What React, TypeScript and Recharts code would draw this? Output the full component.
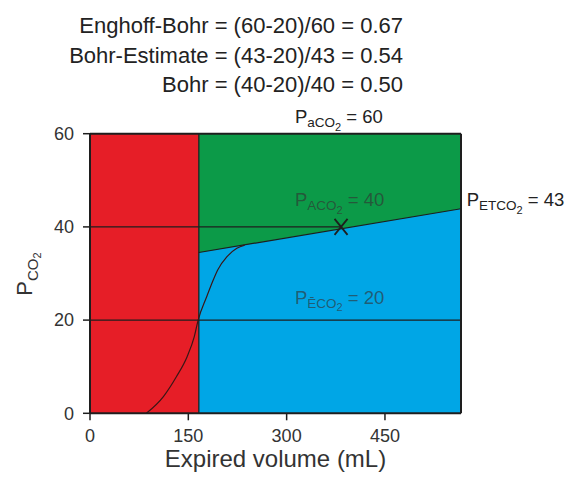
import React from "react";
import {
  ComposedChart,
  Area,
  Line,
  XAxis,
  YAxis,
  ReferenceLine,
  ReferenceDot,
  Scatter,
} from "recharts";

// ---- data ----
const xTicks = [0, 150, 300, 450];
const yTicks = [0, 20, 40, 60];
const volumeMax = 566;
const deadSpaceVolume = 166;
const paCO2 = 60;
const pACO2 = 40;
const pECO2 = 20;
const alveolarPointVolume = 383;

// capnogram S-curve (phase I/II)
const curveVolume = [86, 112, 132, 148, 159, 165, 178, 188, 195, 209, 224, 236];
const curvePco2 = [0, 3.6, 7.9, 12.1, 16.4, 20, 25, 28.6, 30.8, 33.6, 35.4, 36.1];

// phase III line (top of blue area)
const phase3Volume = [166, 566];
const phase3Pco2 = [34.5, 43.9];

const titleLines = [
  "Enghoff-Bohr = (60-20)/60 = 0.67",
  "Bohr-Estimate = (43-20)/43 = 0.54",
  "Bohr = (40-20)/40 = 0.50",
];

const curveData = curveVolume.map((v, i) => ({ v, p: curvePco2[i] }));
const phase3Data = phase3Volume.map((v, i) => ({ v, p: phase3Pco2[i] }));
const redData = [
  { v: 0, p: paCO2 },
  { v: deadSpaceVolume, p: paCO2 },
];
const greenData = [
  { v: deadSpaceVolume, p: paCO2 },
  { v: volumeMax, p: paCO2 },
];
const xMarkData = [{ v: alveolarPointVolume, p: pACO2 }];

const FONT = "'Liberation Sans', Arial, Helvetica, sans-serif";
const RED = "#e61e27";
const GREEN = "#0c9a48";
const BLUE = "#00a6e6";
const DARK = "#1e1e1e";

function subLabel(
  main: string,
  sub: string,
  rest: string,
  fill: string,
  opacity = 1
) {
  return (props: any) => (
    <text
      x={props.cx}
      y={props.cy}
      fontFamily={FONT}
      fill={fill}
      fillOpacity={opacity}
      fontSize={18.5}
    >
      <tspan>{main}</tspan>
      <tspan fontSize={13.5} dy={4}>
        {sub}
      </tspan>
      <tspan fontSize={11} dy={3.5}>
        2
      </tspan>
      <tspan fontSize={18.5} dy={-7.5}>
        {" = " + rest}
      </tspan>
    </text>
  );
}

const XMark = (props: any) => {
  const { cx, cy } = props;
  return (
    <g stroke={DARK} strokeWidth={1.8}>
      <line x1={cx - 6.5} y1={cy - 8} x2={cx + 6.5} y2={cy + 8} />
      <line x1={cx + 6.5} y1={cy - 8} x2={cx - 6.5} y2={cy + 8} />
    </g>
  );
};

export default function App() {
  return (
    <div style={{ position: "absolute", left: 0, top: 0, width: 584, height: 478, background: "#fff" }}>
      <ComposedChart
        width={584}
        height={478}
        margin={{ top: 133.7, right: 123, left: 30, bottom: 34.7 }}
      >
        <XAxis
          type="number"
          dataKey="v"
          domain={[0, volumeMax]}
          ticks={xTicks}
          allowDataOverflow
          height={30}
          tickSize={7}
          tickMargin={9}
          axisLine={{ stroke: DARK, strokeWidth: 2 }}
          tickLine={{ stroke: DARK, strokeWidth: 1.5 }}
          tick={{ fontSize: 18, fill: "#333", fontFamily: FONT }}
        />
        <YAxis
          type="number"
          dataKey="p"
          domain={[0, 60]}
          ticks={yTicks}
          allowDataOverflow
          width={60}
          tickSize={7}
          tickMargin={9}
          axisLine={{ stroke: DARK, strokeWidth: 2 }}
          tickLine={{ stroke: DARK, strokeWidth: 1.5 }}
          tick={{ fontSize: 18, fill: "#333", fontFamily: FONT }}
        />
        <Area
          data={redData}
          dataKey="p"
          type="linear"
          fill={RED}
          fillOpacity={1}
          stroke="none"
          baseValue={0}
          isAnimationActive={false}
        />
        <Area
          data={greenData}
          dataKey="p"
          type="linear"
          fill={GREEN}
          fillOpacity={1}
          stroke="none"
          baseValue={0}
          isAnimationActive={false}
        />
        <Area
          data={phase3Data}
          dataKey="p"
          type="linear"
          fill={BLUE}
          fillOpacity={1}
          stroke={DARK}
          strokeWidth={1.2}
          baseValue={0}
          isAnimationActive={false}
        />
        <ReferenceLine
          segment={[
            { x: 0, y: pACO2 },
            { x: alveolarPointVolume, y: pACO2 },
          ]}
          stroke={DARK}
          strokeWidth={1.2}
        />
        <ReferenceLine y={pECO2} stroke={DARK} strokeWidth={1.2} />
        <ReferenceLine x={deadSpaceVolume} stroke={DARK} strokeWidth={1.3} />
        <ReferenceLine x={volumeMax} stroke={DARK} strokeWidth={2} />
        <ReferenceLine y={paCO2} stroke={DARK} strokeWidth={2} />
        <Line
          data={curveData}
          dataKey="p"
          type="monotone"
          stroke="#3a1616"
          strokeWidth={1.2}
          dot={false}
          isAnimationActive={false}
        />
        <Scatter data={xMarkData} dataKey="p" shape={XMark} isAnimationActive={false} />
        <ReferenceDot
          x={312.7}
          y={62.2}
          r={0}
          ifOverflow="visible"
          shape={subLabel("P", "aCO", "60", "#222")}
        />
        <ReferenceDot
          x={312.7}
          y={44.4}
          r={0}
          ifOverflow="visible"
          shape={subLabel("P", "ACO", "40", "#333", 0.65)}
        />
        <ReferenceDot
          x={312.7}
          y={23.5}
          r={0}
          ifOverflow="visible"
          shape={subLabel("P", "ĒCO", "20", "#333", 0.65)}
        />
        <ReferenceDot
          x={574.6}
          y={44.4}
          r={0}
          ifOverflow="visible"
          shape={subLabel("P", "ETCO", "43", "#222")}
        />
      </ComposedChart>
      <svg
        width={584}
        height={478}
        style={{ position: "absolute", left: 0, top: 0, pointerEvents: "none" }}
      >
        {titleLines.map((t, i) => (
          <text
            key={i}
            x={403}
            y={33 + i * 29.5}
            textAnchor="end"
            fontFamily={FONT}
            fontSize={22}
            fill="#222"
          >
            {t}
          </text>
        ))}
        <text
          x={275.5}
          y={467}
          textAnchor="middle"
          fontFamily={FONT}
          fontSize={24}
          fill="#333"
        >
          Expired volume (mL)
        </text>
        <text
          transform="translate(32,274) rotate(-90)"
          textAnchor="middle"
          fontFamily={FONT}
          fill="#333"
          fontSize={22}
        >
          <tspan>P</tspan>
          <tspan fontSize={15} dy={6}>
            CO
          </tspan>
          <tspan fontSize={11} dy={3}>
            2
          </tspan>
        </text>
      </svg>
    </div>
  );
}
